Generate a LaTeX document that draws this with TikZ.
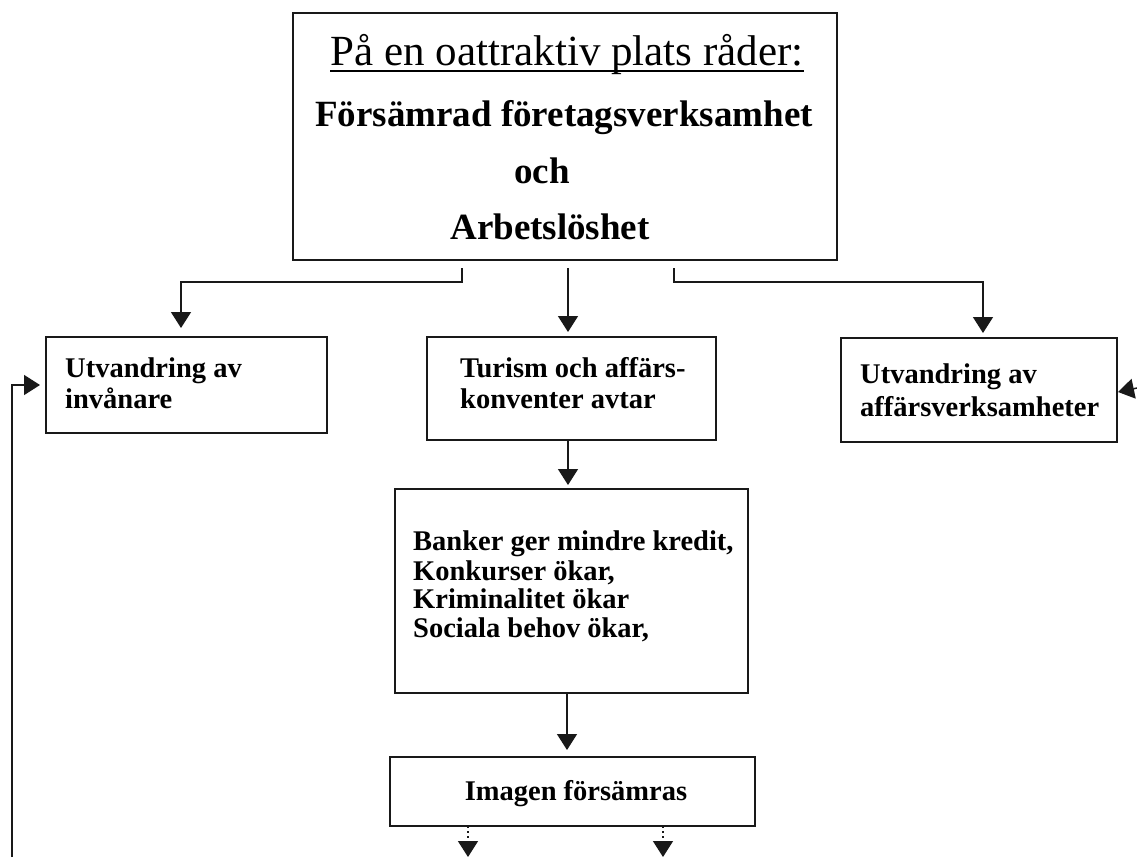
\documentclass[tikz,border=0pt]{standalone}
\usepackage{fontspec}
\setmainfont{Liberation Serif}
\usetikzlibrary{arrows.meta,calc}
\begin{document}
\begin{tikzpicture}[x=1pt,y=-1pt]
\tikzset{
  box/.style={draw=black!90, line width=1.6pt, inner sep=0pt, outer sep=0pt, anchor=north west},
  lbl/.style={inner sep=0pt, anchor=base west, font=\bfseries\fontsize{28.5}{33}\selectfont},
  toplbl/.style={inner sep=0pt, anchor=base, font=\bfseries\fontsize{37}{42}\selectfont},
  arr/.style={line width=1.5pt, draw=black!90, -{Triangle[length=16pt,width=20pt]}},
  dotarr/.style={arr, dash pattern=on 2pt off 3pt}
}
\useasboundingbox (0,0) rectangle (1137,857);
\fill[white] (0,0) rectangle (1137,857);

% boxes
\node[box, minimum width=544pt, minimum height=247pt] (top) at (293,13) {};
\node[box, minimum width=281pt, minimum height=96pt] (inv) at (46,337) {};
\node[box, minimum width=289pt, minimum height=103pt] (tur) at (427,337) {};
\node[box, minimum width=276pt, minimum height=104pt] (aff) at (841,338) {};
\node[box, minimum width=353pt, minimum height=204pt] (bank) at (395,489) {};
\node[box, minimum width=365pt, minimum height=69pt] (img) at (390,757) {};

% top box texts
\node[inner sep=0pt, anchor=base, font=\fontsize{43}{48}\selectfont] (title) at (567,65) {På en oattraktiv plats råder:};
\draw[line width=1.3pt] ([yshift=-6pt]title.base west) -- ([yshift=-6pt]title.base east);
\node[toplbl] (t2) at (564,126) {Försämrad företagsverksamhet};
\node[toplbl] (t3) at (542,183) {och};
\node[toplbl] (t4) at (550,239) {Arbetslöshet};

% row 2 texts
\node[lbl] (inv1) at (65,377) {Utvandring av};
\node[lbl] (inv2) at (65,408) {invånare};
\node[lbl] (tur1) at (460,377) {Turism och affärs-};
\node[lbl] (tur2) at (460,408) {konventer avtar};
\node[lbl] (aff1) at (860,383) {Utvandring av};
\node[lbl] (aff2) at (860,416) {affärsverksamheter};

% bank texts
\node[lbl] (b1) at (413,550) {Banker ger mindre kredit,};
\node[lbl] (b2) at (413,580) {Konkurser ökar,};
\node[lbl] (b3) at (413,608) {Kriminalitet ökar};
\node[lbl] (b4) at (413,637) {Sociala behov ökar,};

% image text
\node[lbl, anchor=base] (imgt) at (576,800) {Imagen försämras};

% connectors
\draw[arr] ([xshift=169pt,yshift=-8pt]top.south west) |- ([xshift=-5.5pt,yshift=55pt]inv.north) -- ([xshift=-5.5pt,yshift=9pt]inv.north);
\draw[arr] ([xshift=275pt,yshift=-8pt]top.south west) -- ([xshift=-3.5pt,yshift=5pt]tur.north);
\draw[arr] ([xshift=381pt,yshift=-8pt]top.south west) |- ([xshift=4pt,yshift=56pt]aff.north) -- ([xshift=4pt,yshift=5pt]aff.north);
\draw[arr] ([xshift=-3.5pt]tur.south) -- ([xshift=-3.5pt,yshift=4pt]bank.north);
\draw[arr] ([xshift=-4.5pt]bank.south) -- ([xshift=-5.5pt,yshift=7pt]img.north);
\draw[dotarr] ([xshift=78pt]img.south west) -- ([xshift=78pt,yshift=-31pt]img.south west);
\draw[dotarr] ([xshift=273pt]img.south west) -- ([xshift=273pt,yshift=-31pt]img.south west);

% feedback lines
\coordinate (fbl) at (12,857);
\coordinate (fbr) at (1137,388);
\draw[arr] (fbl) |- ([xshift=-6pt]inv.west);
\draw[arr] (fbr) -- ([xshift=1pt,yshift=-2pt]aff.east);
\end{tikzpicture}
\end{document}
